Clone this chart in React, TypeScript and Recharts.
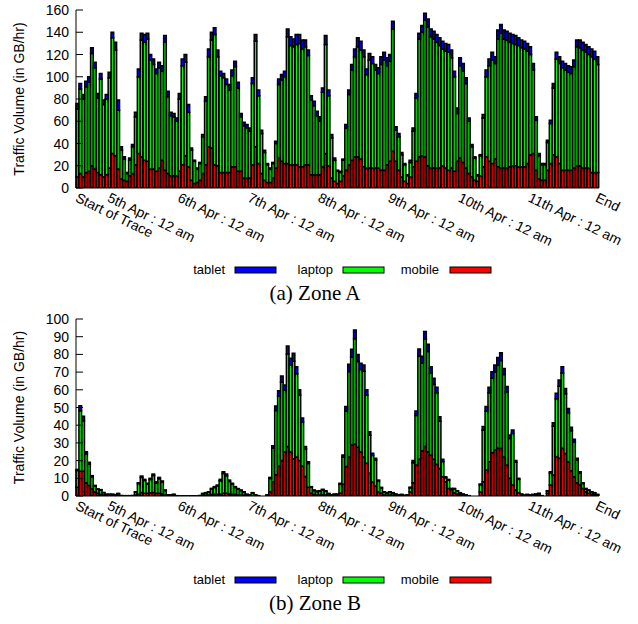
import React from 'react';
import { BarChart, Bar, XAxis, YAxis, Legend } from 'recharts';

// ---------- axis ticks ----------
const tickHours = [0, 11, 35, 59, 83, 107, 131, 155, 178];
const tickLabels = [
  'Start of Trace',
  '5th Apr : 12 am',
  '6th Apr : 12 am',
  '7th Apr : 12 am',
  '8th Apr : 12 am',
  '9th Apr : 12 am',
  '10th Apr : 12 am',
  '11th Apr : 12 am',
  'End',
];
const yTicksA = [0, 20, 40, 60, 80, 100, 120, 140, 160];
const yTicksB = [0, 10, 20, 30, 40, 50, 60, 70, 80, 90, 100];

// ---------- Zone A (GB/hr per hour slot) ----------
const zoneAMobile = [
  10, 13, 10, 14, 15, 20, 17, 14, 12, 10,
  12, 18, 31, 29, 17, 8, 7, 6, 11, 13,
  21, 31, 28, 25, 24, 17, 17, 15, 18, 25,
  16, 13, 11, 11, 11, 15, 21, 29, 19, 7,
  4, 5, 7, 13, 21, 37, 36, 21, 20, 14,
  14, 14, 14, 19, 19, 15, 15, 9, 9, 9,
  21, 37, 22, 13, 7, 5, 5, 9, 18, 27,
  24, 22, 22, 21, 21, 21, 19, 19, 21, 21,
  12, 12, 12, 12, 19, 31, 20, 9, 6, 4,
  6, 11, 16, 21, 25, 28, 28, 26, 19, 18,
  18, 18, 18, 18, 16, 16, 21, 24, 33, 24,
  16, 10, 6, 4, 10, 19, 24, 28, 29, 28,
  20, 18, 18, 18, 18, 20, 18, 16, 18, 15,
  24, 27, 23, 18, 13, 10, 7, 6, 11, 19,
  28, 24, 22, 26, 19, 18, 18, 18, 19, 20,
  20, 19, 19, 19, 22, 30, 31, 16, 8, 7,
  7, 16, 22, 30, 28, 22, 16, 16, 16, 16,
  18, 20, 20, 18, 18, 18, 14, 14, 14,
];
const zoneALaptop = [
  61, 76, 70, 77, 80, 101, 91, 67, 86, 65,
  68, 81, 104, 95, 53, 26, 19, 7, 14, 24,
  43, 69, 105, 106, 110, 98, 94, 88, 90, 80,
  115, 69, 54, 53, 49, 65, 89, 84, 49, 27,
  20, 12, 15, 33, 57, 81, 97, 117, 98, 87,
  85, 79, 74, 82, 90, 75, 49, 47, 45, 42,
  73, 95, 61, 36, 25, 16, 12, 13, 22, 66,
  73, 78, 114, 107, 106, 108, 111, 106, 106, 98,
  67, 62, 53, 48, 67, 98, 63, 36, 19, 11,
  8, 14, 38, 63, 81, 90, 99, 98, 99, 84,
  97, 94, 88, 85, 95, 99, 89, 90, 110, 28,
  30, 20, 15, 7, 13, 32, 57, 106, 111, 123,
  125, 118, 116, 113, 110, 105, 105, 106, 99, 85,
  43, 83, 82, 76, 47, 27, 20, 5, 18, 44,
  72, 86, 93, 86, 115, 121, 116, 115, 112, 110,
  109, 109, 107, 106, 101, 90, 75, 45, 21, 14,
  14, 25, 36, 60, 88, 90, 92, 90, 88, 87,
  91, 107, 106, 106, 104, 102, 104, 102, 97,
];
const zoneATablet = [
  5, 5, 4, 5, 5, 5, 5, 4, 5, 4,
  4, 5, 5, 7, 9, 3, 2, 1, 2, 2,
  4, 7, 6, 7, 5, 5, 5, 4, 5, 5,
  6, 5, 3, 3, 3, 5, 6, 7, 7, 2,
  1, 1, 1, 2, 4, 7, 7, 6, 6, 4,
  4, 5, 5, 5, 5, 5, 3, 3, 3, 3,
  5, 6, 5, 3, 2, 1, 1, 1, 2, 5,
  5, 5, 7, 8, 7, 9, 8, 8, 6, 5,
  4, 4, 4, 4, 4, 8, 5, 3, 2, 1,
  1, 1, 3, 4, 5, 7, 8, 8, 6, 5,
  6, 6, 5, 5, 7, 7, 7, 6, 7, 3,
  3, 2, 1, 1, 2, 3, 4, 5, 6, 6,
  7, 7, 7, 7, 7, 7, 7, 7, 7, 5,
  5, 7, 7, 5, 3, 2, 1, 1, 1, 3,
  6, 6, 7, 6, 8, 8, 8, 8, 8, 8,
  8, 7, 7, 7, 7, 7, 6, 3, 2, 1,
  1, 2, 3, 4, 6, 6, 6, 6, 6, 6,
  6, 6, 7, 7, 7, 7, 7, 7, 7,
];

// ---------- Zone B ----------
const zoneBMobile = [
  5, 14, 14, 7.5, 6, 4, 2.4, 1.5, 1, 0.5,
  0.3, 0.3, 0.3, 0.2, 0.3, 0.1, 0, 0, 0, 0.1,
  0.5, 1, 2, 1.5, 1.5, 1.8, 2, 1.5, 1.5, 1.2,
  0.5, 0.1, 0.1, 0.2, 0, 0, 0, 0, 0, 0,
  0, 0, 0, 0.3, 0.4, 0.5, 0.8, 1, 1, 1.2,
  1.5, 1.5, 1.2, 1, 0.8, 0.6, 0.5, 0.4, 0.2, 0.1,
  0.3, 0.1, 0, 0, 0, 0.1, 2.4, 8, 12, 17,
  20, 25, 28, 25, 21, 22, 20, 17, 11, 5,
  1.5, 0.8, 0.6, 0.6, 0.8, 0.6, 0.3, 0.1, 0.2, 0.2,
  1.5, 6.6, 16.6, 22, 28.8, 29.4, 27.5, 25, 22, 18.5,
  12.8, 8, 5.6, 2.4, 1.5, 0.5, 0.4, 0.5, 0.4, 0.2,
  0.1, 0.2, 0.1, 0.1, 2.4, 7.5, 17.5, 20.7, 25.6, 27.9,
  25, 23, 20.7, 18, 15.6, 10.9, 8, 4.3, 3.4, 1.9,
  1, 0.8, 0.4, 0.2, 0.1, 0, 0, 0, 2.4, 8,
  14.7, 19.4, 24.5, 26, 27, 27, 22, 17.5, 10, 6.2,
  3.4, 1.9, 0.3, 0.2, 0.3, 0.2, 0.3, 0.3, 0.4, 0.1,
  0, 1.5, 6.2, 11.9, 22.2, 21.3, 27, 24, 19.4, 14.3,
  10.9, 7.5, 6.2, 4.3, 2.4, 1.5, 1, 0.8, 0.4,
];
const zoneBLaptop = [
  9.4, 34.2, 28.5, 16.3, 12, 6.9, 3.3, 2.3, 2.4, 1.4,
  0.6, 0.6, 0.6, 0.5, 1, 0.2, 0.2, 0.2, 0.2, 0.2,
  1.7, 6, 8.5, 7.3, 5.2, 7.5, 9.6, 5.9, 8.3, 6.7,
  2.6, 0.4, 0.4, 0.6, 0.2, 0.1, 0.1, 0.1, 0.1, 0.1,
  0.1, 0.1, 0.3, 1, 1.3, 1.6, 3.1, 3.8, 4.6, 7.4,
  11.2, 9.9, 7, 5.6, 4, 3.2, 2.6, 1.8, 0.7, 0.4,
  1.4, 0.4, 0.2, 0, 0, 0.4, 7.5, 19, 36.3, 39.5,
  44.3, 34.7, 52.2, 48.8, 55.1, 47, 37, 24.8, 15.5, 13.4,
  3.4, 2.3, 1.9, 2.1, 2.6, 2.1, 1, 0.4, 0.7, 0.7,
  5.1, 15.3, 31.4, 48.4, 49.6, 59.4, 48.5, 46.5, 48.5, 38.5,
  21.5, 14.9, 14.7, 6.1, 3, 1.7, 1.3, 1.7, 1.3, 0.8,
  0.4, 0.6, 0.2, 0.4, 2.2, 11.3, 28, 58.3, 49.4, 60.6,
  56.7, 46.5, 42.3, 40.4, 26.7, 8.6, 2.3, 4.6, 0.6, 2.1,
  1.8, 0.9, 0.6, 0.3, 0.1, 0, 0, 0, 4, 29.2,
  33.3, 39, 42.2, 44, 46.8, 49.5, 46.6, 41.3, 22.5, 29.1,
  15.6, 7.5, 0.7, 0.3, 0.5, 0.3, 0.5, 0.7, 1, 0.1,
  0, 1.3, 6.8, 27.5, 32.8, 40.7, 42.5, 33.8, 27.6, 22.5,
  19.6, 12.8, 6.8, 2.8, 1.6, 1.7, 1.2, 1, 0.4,
];
const zoneBTablet = [
  0.6, 2.8, 2.5, 1.2, 1, 0.6, 0.3, 0.2, 0.2, 0.1,
  0.1, 0.1, 0.1, 0.1, 0.2, 0, 0, 0, 0, 0,
  0.2, 0.5, 0.8, 0.6, 0.5, 0.7, 0.8, 0.6, 0.7, 0.6,
  0.3, 0.1, 0.1, 0.2, 0, 0, 0, 0, 0, 0,
  0, 0, 0, 0.2, 0.2, 0.3, 0.4, 0.5, 0.6, 0.8,
  1, 1, 0.8, 0.6, 0.5, 0.4, 0.3, 0.2, 0.1, 0.1,
  0.2, 0.1, 0, 0, 0, 0.1, 0.6, 1.4, 2.5, 3,
  3.5, 3, 4.5, 4, 4.5, 4, 3, 2.2, 1.5, 1,
  0.4, 0.3, 0.3, 0.3, 0.4, 0.3, 0.2, 0.1, 0.2, 0.2,
  0.6, 1.3, 2.5, 4, 4.5, 5, 4, 3.5, 3.5, 3,
  2, 1.2, 1, 0.5, 0.4, 0.2, 0.2, 0.2, 0.2, 0.1,
  0.1, 0.1, 0.1, 0.1, 0.4, 1.2, 2.5, 4, 4, 4.5,
  4, 3.5, 3.5, 3, 2.5, 1.2, 0.6, 0.5, 0.3, 0.3,
  0.2, 0.2, 0.1, 0.1, 0, 0, 0, 0, 0.4, 2,
  2.5, 3, 3.5, 4, 4.5, 4.5, 3.5, 3, 2, 2,
  1, 0.6, 0.1, 0.1, 0.1, 0.1, 0.1, 0.1, 0.1, 0,
  0, 0.2, 0.7, 2, 3, 3.5, 3.5, 3, 2.5, 2,
  1.5, 1, 0.7, 0.4, 0.3, 0.2, 0.2, 0.1, 0.1,
];

// ---------- styling / layout ----------
const FONT = "'Liberation Sans', Arial, Helvetica, sans-serif";
const SERIF = "'Liberation Serif', 'Times New Roman', Times, serif";
const CHART_W = 638;
const MARGIN_LEFT = 16;
const YAXIS_W = 60;
const MARGIN_RIGHT = 39;
const PLOT_W = CHART_W - MARGIN_LEFT - YAXIS_W - MARGIN_RIGHT;
const BAR_STROKE = 1.5;

const seriesColors: Record<string, string> = {
  tablet: '#0000ff',
  laptop: '#00ff00',
  mobile: '#ff0000',
};
const legendOrder = ['tablet', 'laptop', 'mobile'];
const legendTextEnd = [225, 333, 439];
const legendSwatchX = [235, 343, 450];

function buildRows(mobile: number[], laptop: number[], tablet: number[]) {
  return mobile.map((m, i) => ({ hour: i, mobile: m, laptop: laptop[i], tablet: tablet[i] }));
}

const rowsA = buildRows(zoneAMobile, zoneALaptop, zoneATablet);
const rowsB = buildRows(zoneBMobile, zoneBLaptop, zoneBTablet);

const renderXTick = (props: any) => {
  const { x, y, payload } = props;
  const k = tickHours.indexOf(Number(payload.value));
  if (k < 0) return <g />;
  const x0 = x - 3;
  const y0 = y + 13;
  return (
    <text
      x={x0}
      y={y0}
      transform={`rotate(26 ${x0} ${y0})`}
      textAnchor="start"
      fontSize={14}
      fontFamily={FONT}
      fill="#000"
    >
      {tickLabels[k]}
    </text>
  );
};

const renderLeftYTick = (props: any) => {
  const { x, y, payload } = props;
  return (
    <g>
      <line x1={x} y1={y} x2={x + 7} y2={y} stroke="#000" strokeWidth={1} />
      <text x={x - 7} y={y} dy="0.36em" textAnchor="end" fontSize={14} fontFamily={FONT} fill="#000">
        {payload.value}
      </text>
    </g>
  );
};

const renderRightYTick = (props: any) => {
  const { x, y } = props;
  return <line x1={x - 7} y1={y} x2={x} y2={y} stroke="#000" strokeWidth={1} />;
};

const makeYLabel = (plotTop: number, plotH: number) => () => {
  const cx = 24;
  const cy = plotTop + plotH / 2;
  return (
    <text
      x={cx}
      y={cy}
      transform={`rotate(-90 ${cx} ${cy})`}
      textAnchor="middle"
      fontSize={14}
      fontFamily={FONT}
      fill="#000"
    >
      Traffic Volume (in GB/hr)
    </text>
  );
};

const renderLegend = () => (
  <svg width={CHART_W} height={16} style={{ display: 'block' }}>
    {legendOrder.map((key, i) => (
      <g key={key}>
        <text x={legendTextEnd[i]} y={12} textAnchor="end" fontSize={13} fontFamily={FONT} fill="#000">
          {key}
        </text>
        <rect x={legendSwatchX[i]} y={5} width={41} height={6} fill={seriesColors[key]} stroke="#000" strokeWidth={1} />
      </g>
    ))}
  </svg>
);

type PanelProps = {
  rows: any[];
  yMax: number;
  yTicks: number[];
  top: number;
  height: number;
  marginBottom: number;
  legendTop: number;
  plotH: number;
};

function Panel({ rows, yMax, yTicks, top, height, marginBottom, legendTop, plotH }: PanelProps) {
  const barW = PLOT_W / rows.length;
  return (
    <div style={{ position: 'absolute', left: 0, top }}>
      <BarChart
        width={CHART_W}
        height={height}
        data={rows}
        margin={{ top: 10, right: MARGIN_RIGHT, bottom: marginBottom, left: MARGIN_LEFT }}
        barCategoryGap={0}
        barGap={0}
      >
        <Bar dataKey="mobile" stackId="s" fill={seriesColors.mobile} stroke="#000" strokeWidth={BAR_STROKE} barSize={barW} isAnimationActive={false} />
        <Bar dataKey="laptop" stackId="s" fill={seriesColors.laptop} stroke="#000" strokeWidth={BAR_STROKE} barSize={barW} isAnimationActive={false} />
        <Bar dataKey="tablet" stackId="s" fill={seriesColors.tablet} stroke="#000" strokeWidth={BAR_STROKE} barSize={barW} isAnimationActive={false} />
        <XAxis
          dataKey="hour"
          interval={0}
          tick={renderXTick}
          tickLine={false}
          tickSize={0}
          tickMargin={0}
          height={50}
          axisLine={{ stroke: '#000', strokeWidth: 1 }}
        />
        <XAxis
          xAxisId="top"
          dataKey="hour"
          orientation="top"
          height={0}
          tick={false}
          tickLine={false}
          axisLine={{ stroke: '#000', strokeWidth: 1 }}
        />
        <YAxis
          type="number"
          domain={[0, yMax]}
          ticks={yTicks}
          interval={0}
          width={YAXIS_W}
          tick={renderLeftYTick}
          tickLine={false}
          tickSize={0}
          tickMargin={0}
          allowDataOverflow
          axisLine={{ stroke: '#000', strokeWidth: 1 }}
          label={makeYLabel(10, plotH)}
        />
        <YAxis
          yAxisId="right"
          orientation="right"
          type="number"
          domain={[0, yMax]}
          ticks={yTicks}
          interval={0}
          width={0}
          tick={renderRightYTick}
          tickLine={false}
          tickSize={0}
          tickMargin={0}
          allowDataOverflow
          axisLine={{ stroke: '#000', strokeWidth: 1 }}
        />
        <Legend
          content={renderLegend}
          layout="horizontal"
          verticalAlign="middle"
          wrapperStyle={{ top: legendTop, left: 0, width: CHART_W, height: 16 }}
        />
      </BarChart>
    </div>
  );
}

const captionStyle = (centerY: number): React.CSSProperties => ({
  position: 'absolute',
  left: 0,
  width: 630,
  top: centerY - 13,
  height: 24,
  lineHeight: '24px',
  textAlign: 'center',
  fontFamily: SERIF,
  fontSize: 21,
  color: '#000',
});

export default function App() {
  return (
    <div style={{ position: 'absolute', left: 0, top: 0, width: 638, height: 624, background: '#fff' }}>
      <Panel rows={rowsA} yMax={160} yTicks={yTicksA} top={0} height={300} marginBottom={62} legendTop={262} plotH={178} />
      <div style={captionStyle(294)}>(a) Zone A</div>
      <Panel rows={rowsB} yMax={100} yTicks={yTicksB} top={309} height={300} marginBottom={63} legendTop={263} plotH={177} />
      <div style={captionStyle(604)}>(b) Zone B</div>
    </div>
  );
}
